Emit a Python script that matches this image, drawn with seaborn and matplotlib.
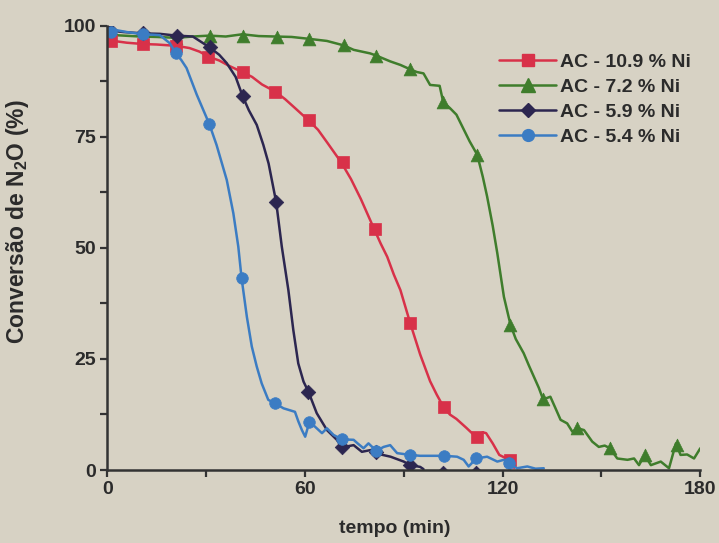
import matplotlib
matplotlib.use("Agg")
import matplotlib.pyplot as plt
from matplotlib.lines import Line2D
import seaborn as sns

# ---------------- data ----------------
series_names = ["AC - 10.9 % Ni", "AC - 7.2 % Ni", "AC - 5.9 % Ni", "AC - 5.4 % Ni"]

# AC - 10.9 % Ni (red)
t_red = [0, 3, 6, 11, 15, 21, 25, 28, 31, 34, 37, 41, 44, 47, 51, 54, 57, 61, 64, 67,
         71, 74, 77, 81, 83, 85, 87, 89, 92, 95, 98, 100, 102, 104, 106, 109, 112, 114,
         115, 117, 119, 122, 123.5]
v_red = [96.8, 96.5, 96.2, 95.9, 95.8, 95.5, 95, 94.2, 93, 92.2, 91, 89.6, 88.5, 86.8,
         85.2, 83.5, 81.5, 78.8, 76.6, 73.5, 69.3, 65.5, 61, 54.3, 51, 48, 44, 40.5, 33,
         26, 20, 17, 14.3, 12.5, 11.5, 9.5, 7.4, 8.5, 8.3, 6, 3.4, 2.3, 0.5]
tm_red = [1.3, 11, 20.9, 30.7, 41.3, 51, 61.4, 71.5, 81.4, 91.8, 102.3, 112.3, 122.4]
vm_red = [96.6, 95.9, 95.5, 93, 89.6, 85.2, 78.8, 69.3, 54.3, 33, 14.3, 7.4, 2.3]

# AC - 7.2 % Ni (green)
t_grn = [0, 5, 10, 15, 21, 26, 31, 36, 41, 46, 51, 56, 61, 66.7, 71.8, 74.8, 79.8, 81.7,
         85.9, 89, 92, 94, 96, 98, 100.9, 102, 104, 106, 108, 110, 112.3, 114, 115.3, 117,
         118.4, 120.4, 122.4, 124, 126.4, 128, 129.5, 131, 132.3, 134.5, 136, 137.6,
         139.6, 141.2, 142.7, 144.7, 147.2, 149.2, 151, 152.6, 154.8, 157.9, 159.9,
         161.4, 163.1, 165, 168, 170.5, 172.6, 174, 176, 178.1, 180]
v_grn = [98, 97.8, 97.6, 97.5, 97.3, 97.6, 97.8, 97.6, 98.1, 97.7, 97.6, 97.5, 97.1,
         96.6, 95.6, 94.6, 93.8, 93.3, 92, 91.2, 90.2, 89.6, 89.3, 86.7, 86.5, 82.8,
         81.5, 80, 77, 74, 71, 66, 61.6, 55, 48.8, 39, 32.7, 29.5, 26.3, 23.5, 21, 18.5,
         15.9, 16.5, 14, 11.3, 10.5, 8.6, 9.4, 9, 6.4, 5.2, 5.5, 4.9, 2.6, 2.3, 2.6, 1.1,
         3.4, 1.1, 1.9, 0.4, 6, 3.4, 3.5, 2.6, 4.9]
tm_grn = [1, 11, 21, 31.3, 41.3, 51.5, 61.4, 71.8, 81.7, 92, 102, 112.3, 122.4, 132.3,
          142.7, 152.6, 163.1, 172.9]
vm_grn = [98, 97.6, 97.3, 97.8, 97.8, 97.6, 97.1, 95.6, 93.3, 90.2, 82.8, 71, 32.7, 15.9,
          9.4, 4.9, 3.4, 5.6]

# AC - 5.9 % Ni (navy)
t_nav = [0, 5, 11, 16, 21, 26, 31, 34, 36.3, 39, 41.1, 43, 45.4, 47.4, 49, 51.3, 53, 55,
         56.5, 58, 59.6, 61.1, 63.6, 66.7, 69.7, 71.2, 74.8, 77.3, 80, 83, 86, 90, 92, 95, 96]
v_nav = [99, 98.6, 98.3, 98.2, 97.8, 97.6, 95.2, 93.5, 91.6, 88.5, 84.2, 81, 77.7, 73.2,
         69, 60.3, 50.3, 40.5, 31.5, 24, 19.9, 17.6, 12.8, 9, 6.8, 5.1, 5.6, 4.1, 4.5, 3.5,
         3, 1.9, 1.1, 0.7, 0.2]
tm_nav = [1, 11, 21.1, 31.2, 41.1, 51.3, 61.1, 71.2, 81.5, 92, 102, 112]
vm_nav = [99, 98.3, 97.8, 95.2, 84.2, 60.3, 17.6, 5.1, 4, 1.1, -0.6, -0.6]

# AC - 5.4 % Ni (blue)
t_blu = [0, 3, 6, 11, 14, 16, 19, 20.9, 22.5, 24.1, 27.2, 31, 33.2, 36.3, 38.3, 39.8,
         40.8, 42.4, 43.9, 45.4, 46.9, 48.9, 51, 53.5, 57, 58, 59.1, 60.1, 61.4, 63.6,
         65.2, 66.7, 68.7, 71.2, 74.8, 76, 77.8, 79.3, 81.7, 83.9, 85.9, 88, 90, 92, 95,
         100, 102.3, 106.2, 108.2, 109.7, 112, 115.3, 118.4, 120.4, 122, 124.4, 127.5,
         130, 132.5]
v_blu = [99.2, 99, 98.6, 98.1, 98, 97.9, 96.1, 93.8, 92.3, 90.5, 84.5, 77.9, 73.2, 65.3,
         57.8, 50.3, 43.2, 34.5, 27.8, 23.3, 19.5, 15.8, 15, 13.9, 13.1, 11, 9, 7.5, 10.9,
         9.4, 8.3, 9.4, 7.9, 6.9, 6.8, 6, 4.9, 6, 4.3, 5.2, 5.6, 3.8, 3.6, 3.4, 3.2, 3.2,
         3.2, 3, 2.3, 0.8, 2.6, 3, 1.9, 2.3, 1.5, 0.4, 0.8, 0.3, 0.4]
tm_blu = [1.3, 11, 20.9, 31, 40.8, 51, 61.4, 71.2, 81.7, 92, 102.3, 112, 122]
vm_blu = [98.7, 98.1, 93.8, 77.9, 43.2, 15, 10.9, 6.9, 4.3, 3.4, 3.2, 2.6, 1.5]

x_ticks = [0, 60, 120, 180]
y_ticks = [0, 25, 50, 75, 100]

# ---------------- style ----------------
BG = "#d7d2c4"
TXT = "#2b2b2b"
sns.set_style("ticks")
plt.rcParams["font.family"] = ["Liberation Sans", "DejaVu Sans"]
plt.rcParams["font.weight"] = "bold"
plt.rcParams["mathtext.fontset"] = "custom"
plt.rcParams["mathtext.rm"] = "Liberation Sans:bold"
plt.rcParams["mathtext.bf"] = "Liberation Sans:bold"
plt.rcParams["mathtext.it"] = "Liberation Sans:bold"

colors = ["#d83149", "#3f7d2c", "#2c2650", "#3b7cc3"]
markers = ["s", "^", "D", "o"]
msizes = [70, 85, 55, 70]

fig = plt.figure(figsize=(7.19, 5.43), dpi=100, facecolor=BG)
ax = fig.add_axes([0.149, 0.1344, 0.825, 0.818], facecolor=BG)

lines = [(t_grn, v_grn, tm_grn, vm_grn, 1),
         (t_red, v_red, tm_red, vm_red, 0),
         (t_nav, v_nav, tm_nav, vm_nav, 2),
         (t_blu, v_blu, tm_blu, vm_blu, 3)]

z = 2
for t, v, tm, vm, i in lines:
    sns.lineplot(x=t, y=v, ax=ax, color=colors[i], lw=1.8, estimator=None, sort=False,
                 zorder=z)
    sns.scatterplot(x=tm, y=vm, ax=ax, color=colors[i], marker=markers[i], s=msizes[i],
                    edgecolor=colors[i], linewidth=0.5, zorder=z + 0.5)
    z += 1

ax.set_xlim(0, 180)
ax.set_ylim(0, 100)
ax.set_xticks(x_ticks)
ax.set_yticks(y_ticks)
ax.set_xticks([30, 90, 150], minor=True)
ax.set_yticks([12.5, 37.5, 62.5, 87.5], minor=True)
ax.tick_params(axis="both", which="both", direction="out", length=5, width=1.6,
               color="#333333", labelsize=14, labelcolor=TXT, pad=3)
for sp in ["top", "right"]:
    ax.spines[sp].set_visible(False)
for sp in ["left", "bottom"]:
    ax.spines[sp].set_linewidth(1.8)
    ax.spines[sp].set_color("#333333")
    ax.spines[sp].set_zorder(10)
for lab in ax.get_xticklabels() + ax.get_yticklabels():
    lab.set_fontweight("bold")

ax.set_xlabel("tempo (min)", fontsize=14, fontweight="bold", color=TXT)
ax.xaxis.set_label_coords(0.485, -0.112)
ax.set_ylabel("Conversão de N$_\\mathbf{2}$O (%)", fontsize=16.5, fontweight="bold",
              color=TXT)
ax.yaxis.set_label_coords(-0.128, 0.56)

handles = []
for i in range(4):
    handles.append(Line2D([], [], color=colors[i], lw=1.8, marker=markers[i],
                          markersize=[8.5, 9.5, 7.5, 8.5][i], markerfacecolor=colors[i],
                          markeredgecolor=colors[i]))
leg = fig.legend(handles, series_names, loc="upper left", bbox_to_anchor=(0.681, 0.92),
                 frameon=False, fontsize=14, handlelength=2.9, handletextpad=0.2,
                 labelspacing=0.38, borderpad=0)
for txt in leg.get_texts():
    txt.set_color(TXT)
    txt.set_fontweight("bold")

fig.savefig("out.png", dpi=100, facecolor=BG)
